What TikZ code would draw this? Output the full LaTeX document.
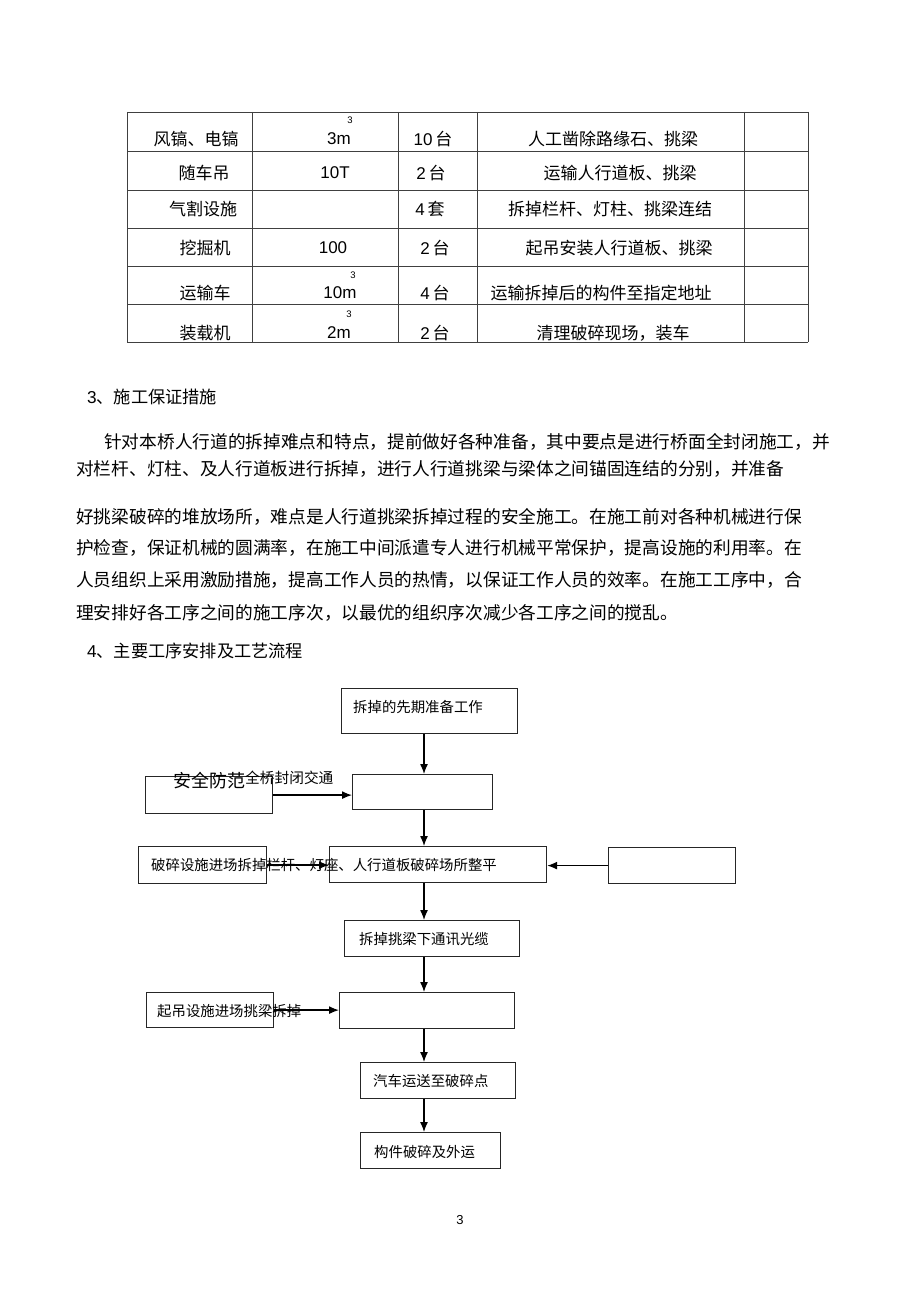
\documentclass[tikz,border=0pt]{standalone}
\usepackage{fontspec}
\setmainfont{Liberation Sans}
\newfontfamily\cjk{Noto Sans CJK SC}
\usetikzlibrary{arrows.meta}
\XeTeXlinebreaklocale "zh"
\XeTeXlinebreakskip=0pt plus 4pt minus 1pt
\newcommand{\bodyfont}{\fontsize{17.7}{21}\cjk}
\newcommand{\tabfont}{\fontsize{17}{20}\cjk}
\newcommand{\numfont}{\fontsize{17}{20}\selectfont}
\newcommand{\flowfont}{\fontsize{14.4}{17}\cjk}
\tikzstyle{every node}=[inner sep=0pt]
\tikzstyle{cell}=[font=\tabfont]
\tikzstyle{num}=[font=\numfont]
\tikzstyle{cube}=[font=\fontsize{9.5}{11}\selectfont]
\tikzstyle{para}=[font=\bodyfont,
                  anchor=west]
\tikzstyle{heading}=[font=\fontsize{17.2}{20}\selectfont,
                     anchor=west]
\tikzstyle{grid}=[draw=black!75,
                  line width=0.9pt]
\tikzstyle{flowbox}=[draw=black!85,
                     line width=1.2pt,
                     anchor=north west]
\tikzstyle{flowtext}=[font=\flowfont,
                      anchor=west]

\begin{document}
\begin{tikzpicture}[x=1pt,y=-1pt,>={Latex[length=10pt,width=8pt]}]
\fill[white] (0,0) rectangle (920,1303);
\useasboundingbox (0,0) rectangle (920,1303);
% machine table
\foreach \y in {112,151,190,228,266,304,342}
  \draw[grid] (127,\y) -- (808,\y);
\foreach \x in {127,252,398,477,744,808}
  \draw[grid] (\x,112) -- (\x,342);
\node (r1c1) [cell] at (196,139) {风镐、电镐};
\node (r1c2) [num] at (339,139) {3m};
\node (r1s)  [cube] at (350,120) {3};
\node (r1c3) [num] at (433,139) {10\,\cjk 台};
\node (r1c4) [cell] at (613,139) {人工凿除路缘石、挑梁};
\node (r2c1) [cell] at (204,173) {随车吊};
\node (r2c2) [num] at (335,173) {10T};
\node (r2c3) [num] at (431,173) {2\,\cjk 台};
\node (r2c4) [cell] at (620,173) {运输人行道板、挑梁};
\node (r3c1) [cell] at (203,209) {气割设施};
\node (r3c3) [num] at (430,209) {4\,\cjk 套};
\node (r3c4) [cell] at (610,209) {拆掉栏杆、灯柱、挑梁连结};
\node (r4c1) [cell] at (205,248) {挖掘机};
\node (r4c2) [num] at (333,248) {100};
\node (r4c3) [num] at (435,248) {2\,\cjk 台};
\node (r4c4) [cell] at (619,248) {起吊安装人行道板、挑梁};
\node (r5c1) [cell] at (205,293) {运输车};
\node (r5c2) [num] at (340,293) {10m};
\node (r5s)  [cube] at (353,275) {3};
\node (r5c3) [num] at (435,293) {4\,\cjk 台};
\node (r5c4) [cell] at (601,293) {运输拆掉后的构件至指定地址};
\node (r6c1) [cell] at (205,333) {装载机};
\node (r6c2) [num] at (339,333) {2m};
\node (r6s)  [cube] at (349,314) {3};
\node (r6c3) [num] at (435,333) {2\,\cjk 台};
\node (r6c4) [cell] at (613,333) {清理破碎现场，装车};
% text
\node (sec3) [heading] at (87,397) {3{\cjk 、施工保证措施}};
\node (p1) [para] at (104,442) {\hbox to 708pt{针对本桥人行道的拆掉难点和特点，提前做好各种准备，其中要点是进行桥面全封闭施工，并}};
\node (p2) [para] at (76,469) {\hbox to 688pt{对栏杆、灯柱、及人行道板进行拆掉，进行人行道挑梁与梁体之间锚固连结的分别，并准备}};
\node (p3) [para] at (76,517) {\hbox to 706pt{好挑梁破碎的堆放场所，难点是人行道挑梁拆掉过程的安全施工。在施工前对各种机械进行保}};
\node (p4) [para] at (76,548) {\hbox to 706pt{护检查，保证机械的圆满率，在施工中间派遣专人进行机械平常保护，提高设施的利用率。在}};
\node (p5) [para] at (76,580) {\hbox to 706pt{人员组织上采用激励措施，提高工作人员的热情，以保证工作人员的效率。在施工工序中，合}};
\node (p6) [para] at (76,613) {\hbox to 584pt{理安排好各工序之间的施工序次，以最优的组织序次减少各工序之间的搅乱。}};
\node (sec4) [heading] at (87,651) {4{\cjk 、主要工序安排及工艺流程}};
% flow chart
\coordinate (axis) at (424,0);
\node (A)  [flowbox,minimum width=176pt,minimum height=45pt] at (341,688) {};
\node (B)  [flowbox,minimum width=140pt,minimum height=35pt] at (352,774) {};
\node (L1) [flowbox,minimum width=127pt,minimum height=37pt] at (145,776) {};
\node (C)  [flowbox,minimum width=217pt,minimum height=36pt] at (329,846) {};
\node (L2) [flowbox,minimum width=128pt,minimum height=37pt] at (138,846) {};
\node (R)  [flowbox,minimum width=127pt,minimum height=36pt] at (608,847) {};
\node (D)  [flowbox,minimum width=175pt,minimum height=36pt] at (344,920) {};
\node (E)  [flowbox,minimum width=175pt,minimum height=36pt] at (339,992) {};
\node (L3) [flowbox,minimum width=127pt,minimum height=35pt] at (146,992) {};
\node (F)  [flowbox,minimum width=155pt,minimum height=36pt] at (360,1062) {};
\node (G)  [flowbox,minimum width=140pt,minimum height=36pt] at (360,1132) {};
\path[->,line width=1.3pt] (A.south -| axis) edge (B.north -| axis);
\path[->,line width=1.3pt] (B.south -| axis) edge (C.north -| axis);
\path[->,line width=1.3pt] (C.south -| axis) edge (D.north -| axis);
\path[->,line width=1.3pt] (D.south -| axis) edge (E.north -| axis);
\path[->,line width=1.3pt] (E.south -| axis) edge (F.north -| axis);
\path[->,line width=1.3pt] (F.south -| axis) edge (G.north -| axis);
\path[->,line width=1.3pt] (L1.east) edge (L1.east -| B.west);
\path[->,line width=1.3pt] (L2.east) edge (L2.east -| C.west);
\path[->,line width=1.3pt] (R.west) edge (R.west -| C.east);
\path[->,line width=1.3pt] (L3.east) edge (L3.east -| E.west);
\node (tA)  [flowtext] at (353,707) {拆掉的先期准备工作};
\node (tL1) [flowtext,font=\fontsize{18}{20}\cjk] at (173,781) {安全防范};
\node (tL1b) [flowtext,font=\fontsize{14.7}{17}\cjk] at (245,778) {全桥封闭交通};
\node (tC)  [flowtext] at (151,865) {破碎设施进场拆掉栏杆、灯座、人行道板破碎场所整平};
\node (tD)  [flowtext] at (359,939) {拆掉挑梁下通讯光缆};
\node (tL3) [flowtext] at (157,1011) {起吊设施进场挑梁拆掉};
\node (tF)  [flowtext] at (373,1081) {汽车运送至破碎点};
\node (tG)  [flowtext] at (374,1152) {构件破碎及外运};
\node (page) [font=\fontsize{13}{15}\selectfont] at (460,1220) {3};
\end{tikzpicture}
\end{document}
